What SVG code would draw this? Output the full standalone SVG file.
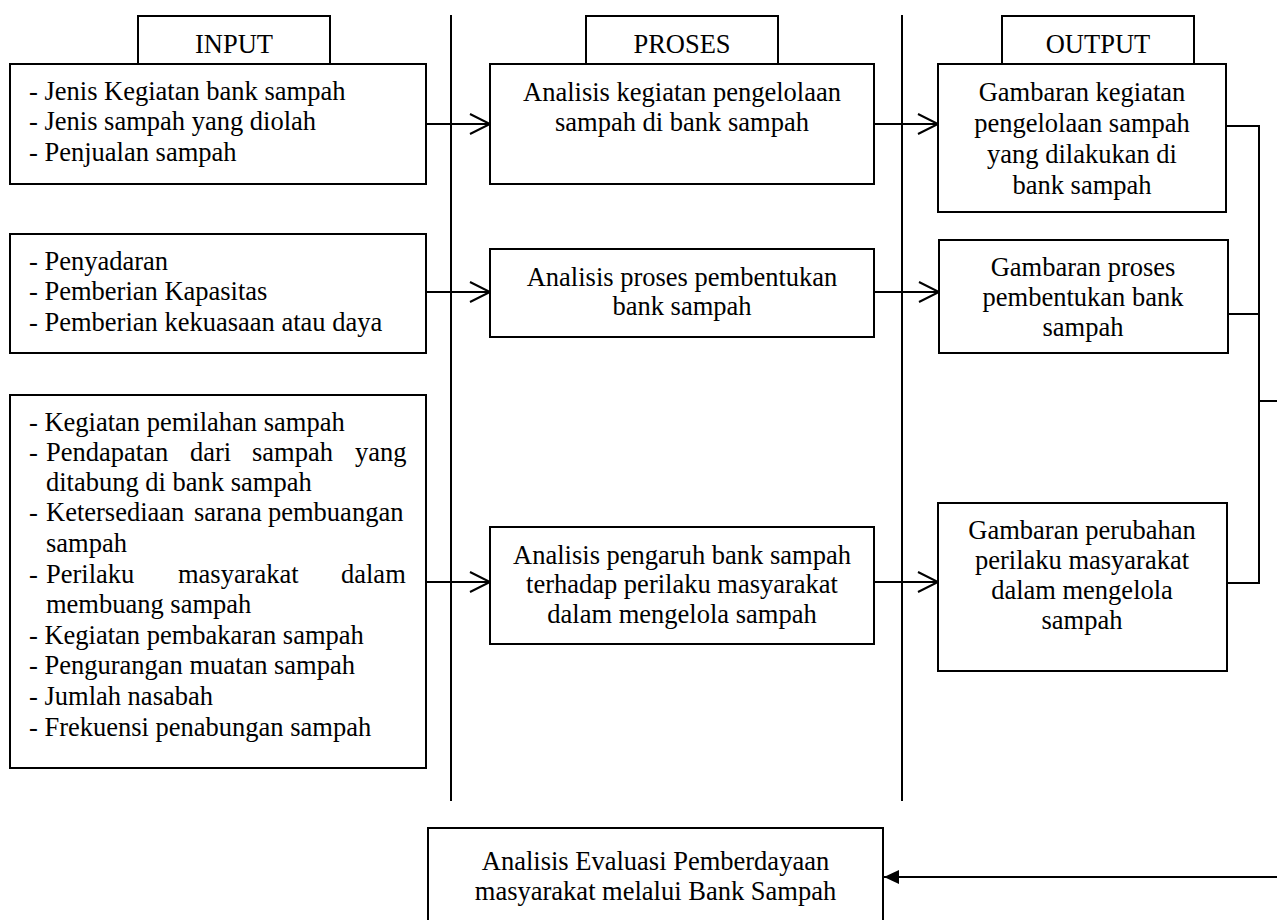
<svg xmlns="http://www.w3.org/2000/svg" width="1277" height="920" viewBox="0 0 1277 920">
<style>
  .box { fill: #fff; stroke: #000; stroke-width: 2; }
  .ln { fill: none; stroke: #000; stroke-width: 2; }
  text { font-family: "Liberation Serif", "Times New Roman", serif; font-size: 26.5px; fill: #000; }
  .c { text-anchor: middle; }
</style>
<defs>
  <marker id="open" markerUnits="userSpaceOnUse" markerWidth="24" markerHeight="24" viewBox="0 0 24 24" refX="21" refY="12" orient="auto">
    <path d="M1,2 L21,12 L1,22" fill="none" stroke="#000" stroke-width="2"/>
  </marker>
  <marker id="solid" markerUnits="userSpaceOnUse" markerWidth="16" markerHeight="16" viewBox="0 0 16 16" refX="15" refY="8" orient="auto">
    <path d="M0,1 L15,8 L0,15 z" fill="#000"/>
  </marker>
</defs>
<rect width="1277" height="920" fill="#fff"/>

<g id="dividers">
  <line class="ln" x1="451" y1="15" x2="451" y2="801"/>
  <line class="ln" x1="902" y1="15" x2="902" y2="801"/>
</g>

<g id="connectors">
  <line class="ln" x1="426" y1="124" x2="490" y2="124" marker-end="url(#open)"/>
  <line class="ln" x1="874" y1="124" x2="938" y2="124" marker-end="url(#open)"/>
  <line class="ln" x1="426" y1="292" x2="490" y2="292" marker-end="url(#open)"/>
  <line class="ln" x1="874" y1="292" x2="939" y2="292" marker-end="url(#open)"/>
  <line class="ln" x1="426" y1="582" x2="490" y2="582" marker-end="url(#open)"/>
  <line class="ln" x1="874" y1="582" x2="938" y2="582" marker-end="url(#open)"/>
  <polyline class="ln" points="1226,126 1259,126 1259,583 1227,583"/>
  <line class="ln" x1="1228" y1="314" x2="1259" y2="314"/>
  <line class="ln" x1="1259" y1="401" x2="1277" y2="401"/>
  <line class="ln" x1="1277" y1="877" x2="884" y2="877" marker-end="url(#solid)"/>
</g>

<g id="header-input">
  <rect class="box" x="138" y="16" width="192" height="48"/>
  <text class="c" x="234" y="53">INPUT</text>
</g>
<g id="header-proses">
  <rect class="box" x="586" y="16" width="192" height="48"/>
  <text class="c" x="682" y="53">PROSES</text>
</g>
<g id="header-output">
  <rect class="box" x="1002" y="16" width="192" height="48"/>
  <text class="c" x="1098" y="53">OUTPUT</text>
</g>

<g id="input-1">
  <rect class="box" x="10" y="64" width="416" height="120"/>
  <text x="29" y="100">- Jenis Kegiatan bank sampah</text>
  <text x="29" y="130">- Jenis sampah yang diolah</text>
  <text x="29" y="160.5">- Penjualan sampah</text>
</g>
<g id="input-2">
  <rect class="box" x="10" y="234" width="416" height="119"/>
  <text x="29" y="269.5">- Penyadaran</text>
  <text x="29" y="300">- Pemberian Kapasitas</text>
  <text x="29" y="330.5">- Pemberian kekuasaan atau daya</text>
</g>
<g id="input-3">
  <rect class="box" x="10" y="395" width="416" height="373"/>
  <text x="29" y="430.5">- Kegiatan pemilahan sampah</text>
  <text y="461"><tspan x="29">-</tspan><tspan x="46">Pendapatan</tspan><tspan x="190">dari</tspan><tspan x="252">sampah</tspan><tspan x="355">yang</tspan></text>
  <text x="46" y="491">ditabung di bank sampah</text>
  <text y="521"><tspan x="29">-</tspan><tspan x="46">Ketersediaan</tspan><tspan x="194">sarana</tspan><tspan x="268">pembuangan</tspan></text>
  <text x="46" y="551.5">sampah</text>
  <text y="582.5"><tspan x="29">-</tspan><tspan x="46">Perilaku</tspan><tspan x="178">masyarakat</tspan><tspan x="341">dalam</tspan></text>
  <text x="46" y="612.5">membuang sampah</text>
  <text x="29" y="643.5">- Kegiatan pembakaran sampah</text>
  <text x="29" y="673.5">- Pengurangan muatan sampah</text>
  <text x="29" y="704.5">- Jumlah nasabah</text>
  <text x="29" y="735.5">- Frekuensi penabungan sampah</text>
</g>

<g id="proses-1">
  <rect class="box" x="490" y="64" width="384" height="120"/>
  <text class="c" x="682" y="100.5">Analisis kegiatan pengelolaan</text>
  <text class="c" x="682" y="130.5">sampah di bank sampah</text>
</g>
<g id="proses-2">
  <rect class="box" x="490" y="249" width="384" height="88"/>
  <text class="c" x="682" y="285.5">Analisis proses pembentukan</text>
  <text class="c" x="682" y="314.5">bank sampah</text>
</g>
<g id="proses-3">
  <rect class="box" x="490" y="527" width="384" height="117"/>
  <text class="c" x="682" y="563.5">Analisis pengaruh bank sampah</text>
  <text class="c" x="682" y="593">terhadap perilaku masyarakat</text>
  <text class="c" x="682" y="622.5">dalam mengelola sampah</text>
</g>

<g id="output-1">
  <rect class="box" x="938" y="64" width="288" height="148"/>
  <text class="c" x="1082" y="100.5">Gambaran kegiatan</text>
  <text class="c" x="1082" y="131.5">pengelolaan sampah</text>
  <text class="c" x="1082" y="162.5">yang dilakukan di</text>
  <text class="c" x="1082" y="193.5">bank sampah</text>
</g>
<g id="output-2">
  <rect class="box" x="939" y="240" width="289" height="113"/>
  <text class="c" x="1083" y="275.5">Gambaran proses</text>
  <text class="c" x="1083" y="305.5">pembentukan bank</text>
  <text class="c" x="1083" y="336">sampah</text>
</g>
<g id="output-3">
  <rect class="box" x="938" y="503" width="289" height="168"/>
  <text class="c" x="1082" y="539">Gambaran perubahan</text>
  <text class="c" x="1082" y="569">perilaku masyarakat</text>
  <text class="c" x="1082" y="599">dalam mengelola</text>
  <text class="c" x="1082" y="629">sampah</text>
</g>

<g id="evaluasi">
  <rect class="box" x="428" y="828" width="455" height="100"/>
  <text class="c" x="655.5" y="870">Analisis Evaluasi Pemberdayaan</text>
  <text class="c" x="655.5" y="900">masyarakat melalui Bank Sampah</text>
</g>
</svg>
